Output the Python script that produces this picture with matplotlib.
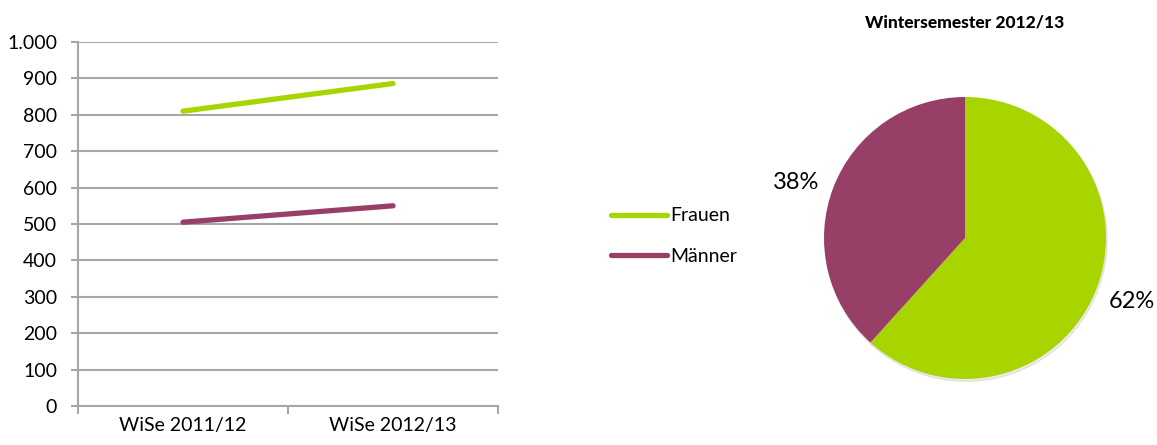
import matplotlib
matplotlib.use("Agg")
import matplotlib.pyplot as plt
from matplotlib.lines import Line2D

# Studierende nach Geschlecht
semester = ["WiSe 2011/12", "WiSe 2012/13"]
frauen = [810, 886]
maenner = [505, 550]
yticks = [0, 100, 200, 300, 400, 500, 600, 700, 800, 900, 1000]
ylabels = ["0", "100", "200", "300", "400", "500", "600", "700", "800", "900", "1.000"]
pie_labels = ["Frauen", "Männer"]
pie_title = "Wintersemester 2012/13"

GREEN = "#a8d400"
PURPLE = "#983f68"
GRID = "#a6a6a6"

plt.rcParams["font.family"] = ["Lato", "DejaVu Sans"]

W, H = 1157, 445
fig = plt.figure(figsize=(W / 100, H / 100), dpi=100)

# --- Liniendiagramm ---
ax = fig.add_axes([78 / W, 39 / H, 420 / W, 364 / H])
xpos = [i + 0.5 for i in range(len(semester))]
ax.plot(xpos, frauen, color=GREEN, lw=3.8, solid_capstyle="round")
ax.plot(xpos, maenner, color=PURPLE, lw=3.8, solid_capstyle="round")
ax.set_xlim(0, len(semester))
ax.set_ylim(0, 1000)
ax.set_yticks(yticks)
ax.set_yticklabels(ylabels, fontsize=14)
ax.set_xticks(range(len(semester) + 1))
ax.set_xticklabels([])
ax.set_xticks(xpos, minor=True)
ax.set_xticklabels(semester, minor=True, fontsize=14)
ax.tick_params(axis="x", which="major", length=6, color=GRID, width=1.5, direction="out")
ax.tick_params(axis="x", which="minor", length=0, pad=8)
ax.tick_params(axis="y", length=5, color=GRID, width=1.5, pad=10)
ax.yaxis.grid(True, color=GRID, lw=1.5)
ax.set_axisbelow(True)
for s in ["top", "right"]:
    ax.spines[s].set_visible(False)
for s in ["left", "bottom"]:
    ax.spines[s].set_color(GRID)
    ax.spines[s].set_linewidth(1.5)

handles = [Line2D([], [], color=GREEN, lw=3.8, solid_capstyle="round"),
           Line2D([], [], color=PURPLE, lw=3.8, solid_capstyle="round")]
fig.legend(handles, pie_labels, loc="center left",
           bbox_to_anchor=(593 / W, 1 - 236 / H), frameon=False, fontsize=14,
           handlelength=2.9, handletextpad=0.15, labelspacing=1.2)

# --- Kreisdiagramm ---
r = 141
cx, cy = 965, 238
pax = fig.add_axes([(cx - r) / W, (H - cy - r) / H, 2 * r / W, 2 * r / H])
pie_vals = [frauen[-1], maenner[-1]]
pax.pie(pie_vals, colors=[GREEN, PURPLE], startangle=90, counterclock=False,
        radius=1.0, shadow={"ox": 0.006, "oy": -0.012, "shade": 0.9, "alpha": 0.08})
pax.set_xlim(-1, 1)
pax.set_ylim(-1, 1)
pax.set_aspect("equal")
total = sum(pie_vals)
fig.text(1132 / W, 1 - 301 / H, f"{round(pie_vals[0] / total * 100)}%", fontsize=17,
         ha="center", va="center")
fig.text(796 / W, 1 - 182 / H, f"{round(pie_vals[1] / total * 100)}%", fontsize=17,
         ha="center", va="center")
fig.text(cx / W, 1 - 22 / H, pie_title, fontsize=12.5, fontweight="black",
         ha="center", va="center")

fig.savefig("out.png", dpi=100)
